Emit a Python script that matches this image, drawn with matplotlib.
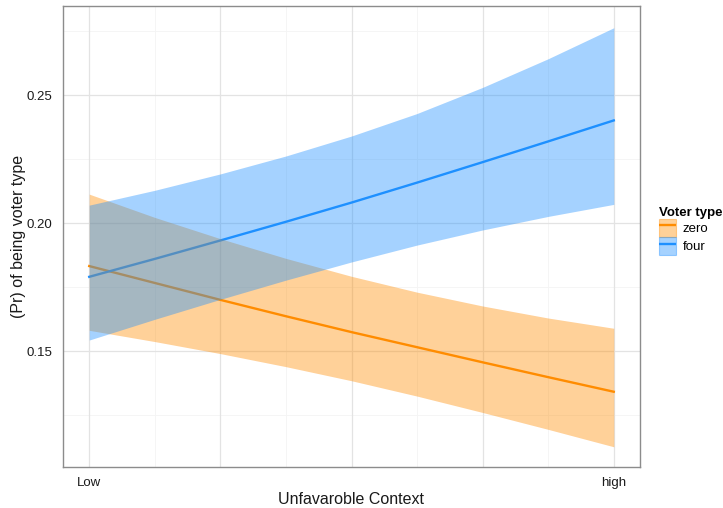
import matplotlib
matplotlib.use("Agg")
import matplotlib.pyplot as plt
from matplotlib.patches import Patch
from matplotlib.lines import Line2D

plt.rcParams["font.family"] = ["Liberation Sans", "DejaVu Sans"]

# Predicted probabilities across the context scale (0 = Low, 4 = high)
context = [0, 0.5, 1, 1.5, 2, 2.5, 3, 3.5, 4]
x_tick_pos = [0, 4]
x_tick_labels = ["Low", "high"]

zero_fit = [0.1832, 0.1766, 0.1700, 0.1636, 0.1574, 0.1515, 0.1456, 0.1398, 0.1341]
zero_lo = [0.1581, 0.1537, 0.1490, 0.1439, 0.1384, 0.1324, 0.1260, 0.1194, 0.1126]
zero_hi = [0.2113, 0.2022, 0.1939, 0.1862, 0.1792, 0.1730, 0.1676, 0.1629, 0.1589]

four_fit = [0.1790, 0.1860, 0.1932, 0.2005, 0.2080, 0.2158, 0.2238, 0.2319, 0.2401]
four_lo = [0.1543, 0.1624, 0.1702, 0.1777, 0.1848, 0.1914, 0.1973, 0.2026, 0.2073]
four_hi = [0.2070, 0.2128, 0.2192, 0.2262, 0.2340, 0.2428, 0.2530, 0.2642, 0.2763]

series_names = ["zero", "four"]
line_colors = {"zero": "#FF8C00", "four": "#1E90FF"}

y_major = [0.15, 0.20, 0.25]
y_minor = [0.125, 0.175, 0.225, 0.275]
x_major = [0, 1, 2, 3, 4]
x_minor = [0.5, 1.5, 2.5, 3.5]

fig = plt.figure(figsize=(7.23, 5.08), dpi=100)
ax = fig.add_axes([63 / 723, 1 - 467 / 508, 577 / 723, 461 / 508])
ax.set_xlim(-0.2, 4.2)
ax.set_ylim(0.1047, 0.2848)

# grid
for v in y_minor:
    ax.axhline(v, color="#F4F4F4", lw=0.6, zorder=0)
for v in x_minor:
    ax.axvline(v, color="#F4F4F4", lw=0.6, zorder=0)
for v in y_major:
    ax.axhline(v, color="#E3E3E3", lw=0.9, zorder=0)
for v in x_major:
    ax.axvline(v, color="#E3E3E3", lw=0.9, zorder=0)

# lines first, ribbons laid over them
ax.plot(context, zero_fit, color=line_colors["zero"], lw=1.7, zorder=2)
ax.plot(context, four_fit, color=line_colors["four"], lw=1.7, zorder=2)
ax.fill_between(context, zero_lo, zero_hi, color=line_colors["zero"], alpha=0.4,
                lw=0, zorder=3)
ax.fill_between(context, four_lo, four_hi, color=line_colors["four"], alpha=0.4,
                lw=0, zorder=4)

ax.set_xticks(x_tick_pos)
ax.set_xticklabels(x_tick_labels)
ax.set_yticks(y_major)
ax.set_yticklabels([f"{v:.2f}" for v in y_major])
ax.tick_params(length=0, labelsize=9.5, colors="#1A1A1A")
ax.tick_params(axis="y", pad=7.5)
ax.tick_params(axis="x", pad=7)

for s in ax.spines.values():
    s.set_color("#8C8C8C")
    s.set_linewidth(1.0)

ax.set_xlabel("Unfavaroble Context", fontsize=11.5, color="#1A1A1A", labelpad=2.5)
ax.set_ylabel("(Pr) of being voter type", fontsize=11.5, color="#1A1A1A")
ax.yaxis.set_label_coords(-0.064, 0.5)

handles = []
for name in series_names:
    c = line_colors[name]
    patch = Patch(facecolor=c, alpha=0.4, edgecolor=c, linewidth=0.8)
    line = Line2D([], [], color=c, lw=1.7, solid_capstyle="butt")
    handles.append((patch, line))

leg = fig.legend(handles, series_names, loc="upper left",
                 bbox_to_anchor=(656 / 723, 1 - 204 / 508), frameon=False,
                 fontsize=9.5, title="Voter type", handlelength=1.35,
                 handleheight=1.75, labelspacing=0.0, handletextpad=0.45,
                 borderaxespad=0, borderpad=0.2)
leg.get_title().set_fontweight("bold")
leg.get_title().set_fontsize(9.5)
leg._legend_box.align = "left"

fig.savefig("out.png", dpi=100)
